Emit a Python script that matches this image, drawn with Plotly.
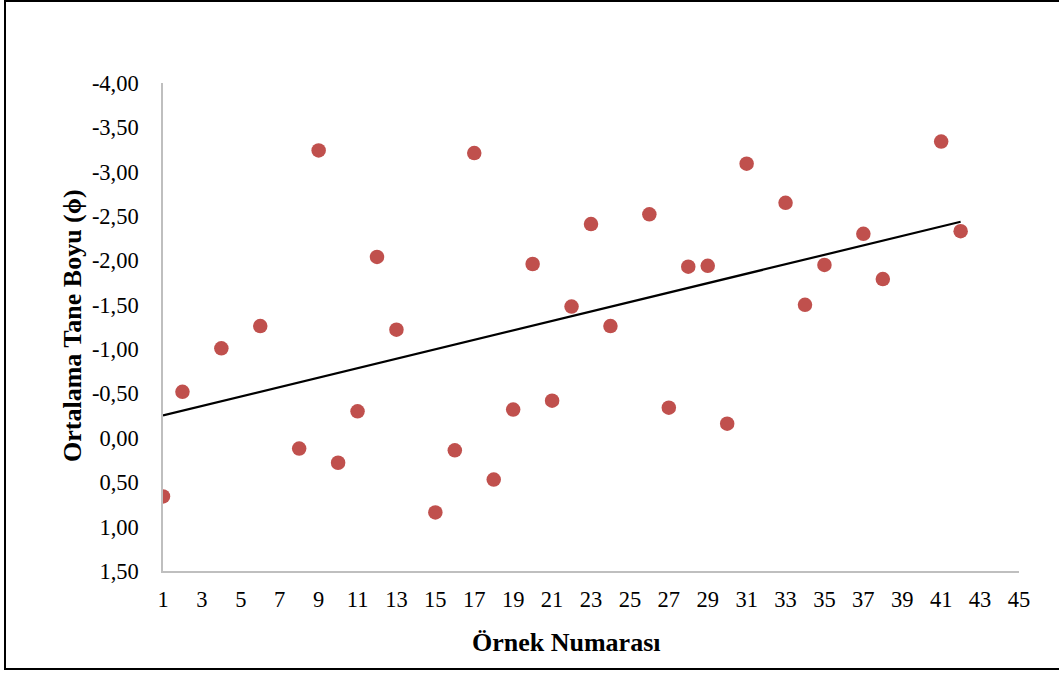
import numpy as np
import plotly.graph_objects as go

sample_no = [1, 2, 4, 6, 8, 9, 10, 11, 12, 13, 15, 16, 17, 18, 19, 20, 21, 22, 23, 24,
             26, 27, 28, 29, 30, 31, 33, 34, 35, 37, 38, 41, 42]
mean_size = [0.66, -0.52, -1.01, -1.26, 0.12, -3.24, 0.28, -0.30, -2.04, -1.22,
             0.84, 0.14, -3.21, 0.47, -0.32, -1.96, -0.42, -1.48, -2.41, -1.26,
             -2.52, -0.34, -1.93, -1.94, -0.16, -3.09, -2.65, -1.50, -1.95, -2.30,
             -1.79, -3.34, -2.33]

x_ticks = list(range(1, 46, 2))
y_ticks = [1.5, 1.0, 0.5, 0.0, -0.5, -1.0, -1.5, -2.0, -2.5, -3.0, -3.5, -4.0]
y_ticktext = [f"{v:.2f}".replace(".", ",") for v in y_ticks]

slope, intercept = np.polyfit(sample_no, mean_size, 1)
trend_x = [min(sample_no), max(sample_no)]
trend_y = [slope * v + intercept for v in trend_x]

fig = go.Figure()
fig.add_trace(go.Scatter(x=trend_x, y=trend_y, mode="lines",
                         line=dict(color="black", width=2.2), hoverinfo="skip"))
fig.add_trace(go.Scatter(x=sample_no, y=mean_size, mode="markers",
                         marker=dict(color="#C0504D", size=14.5, line=dict(width=0))))

W, H = 1059, 673
L, R, T, B = 163, 40, 83, 102
pw, ph = W - L - R, H - T - B

def px(xp):
    return (xp - L) / pw

def py(yp):
    return (H - B - yp) / ph

fig.update_layout(
    width=W, height=H,
    margin=dict(l=L, r=R, t=T, b=B),
    paper_bgcolor="white", plot_bgcolor="white",
    showlegend=False,
    font=dict(family="Liberation Serif", color="black", size=22),
    xaxis=dict(range=[1, 45], tickvals=x_ticks, showgrid=False, zeroline=False,
               showline=True, linecolor="#BFBFBF", linewidth=1.5,
               ticks="", ticklabelstandoff=7,
               tickfont=dict(size=22.5, family="Liberation Serif")),
    yaxis=dict(range=[1.5, -4.0], tickvals=y_ticks, ticktext=y_ticktext,
               showgrid=False, zeroline=False,
               showline=True, linecolor="#BFBFBF", linewidth=1.5,
               ticks="", ticklabelstandoff=18,
               tickfont=dict(size=22.5, family="Liberation Serif")),
    shapes=[dict(type="rect", xref="paper", yref="paper",
                 x0=px(5), x1=px(1064), y0=py(669), y1=py(1),
                 line=dict(color="black", width=2), fillcolor="rgba(0,0,0,0)")],
    annotations=[
        dict(text="<b>Örnek Numarası</b>", xref="paper", yref="paper",
             x=px(566), y=py(642), xanchor="center", yanchor="middle",
             showarrow=False, font=dict(size=26, family="Liberation Serif")),
        dict(text="<b>Ortalama Tane Boyu (ϕ)</b>", xref="paper", yref="paper",
             x=px(72), y=py(326), xanchor="center", yanchor="middle",
             showarrow=False, textangle=-90,
             font=dict(size=26, family="Liberation Serif")),
    ],
)

fig.write_html("out.html")
